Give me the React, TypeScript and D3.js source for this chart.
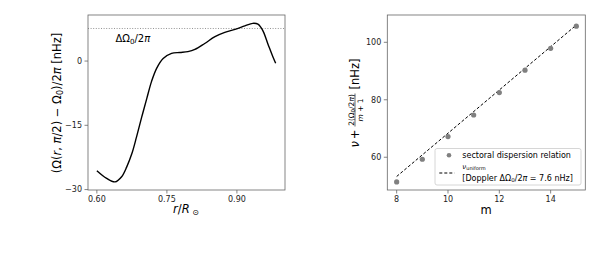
import React from "react";
import * as d3 from "d3";

// left panel: rotation rate profile at the equator
const radius = [0.6, 0.621, 0.639, 0.653, 0.664, 0.675, 0.685, 0.696, 0.707, 0.717, 0.728, 0.742, 0.76, 0.778, 0.795, 0.81, 0.831, 0.853, 0.874, 0.896, 0.917, 0.934, 0.945, 0.955, 0.966, 0.977, 0.983];
const omegaDiff = [-25.6, -27.4, -28.2, -27.0, -24.7, -21.6, -17.7, -13.1, -8.7, -4.8, -1.7, 0.6, 1.8, 2.0, 2.2, 2.7, 4.1, 5.7, 6.7, 7.4, 8.2, 8.8, 8.6, 7.2, 4.1, 1.0, -0.5];
const dopplerShift = 7.6;
const leftXTicks = [0.6, 0.75, 0.9];
const leftYTicks = [0, -15, -30];

// right panel: sectoral dispersion relation
const mValues = [8, 9, 10, 11, 12, 13, 14, 15];
const nuValues = [51.4, 59.3, 67.2, 74.7, 82.5, 90.3, 97.9, 105.6];
const uniformM = [8, 15];
const uniformNu = [53.3, 106.0];
const rightXTicks = [8, 10, 12, 14];
const rightYTicks = [60, 80, 100];

const spine = "#666";
const font = "DejaVu Sans, sans-serif";

const App = () => {
  const top = 15,
    bottom = 190;

  const xL = d3.scaleLinear().domain([0.581, 1.003]).range([88, 285]);
  const yL = d3.scaleLinear().domain([-30.1, 10.75]).range([bottom, top]);
  const xR = d3.scaleLinear().domain([7.635, 15.35]).range([387.3, 585.3]);
  const yR = d3.scaleLinear().domain([48.6, 109.5]).range([bottom, top]);

  const curve = d3
    .line<number>()
    .x((_, i) => xL(radius[i]))
    .y((d) => yL(d))
    .curve(d3.curveCatmullRom.alpha(0.5))(omegaDiff);

  const uniformLine = d3
    .line<number>()
    .x((_, i) => xR(uniformM[i]))
    .y((d) => yR(d))(uniformNu);

  const frame = (x0: number, x1: number) => (
    <rect x={x0} y={top} width={x1 - x0} height={bottom - top} fill="none" stroke={spine} strokeWidth={0.8} />
  );

  return (
    <svg width={600} height={262} style={{ position: "absolute", left: 0, top: 0, background: "#fff" }} fontFamily={font}>
      {/* ---------- left panel ---------- */}
      <line x1={88} x2={285} y1={yL(dopplerShift)} y2={yL(dopplerShift)} stroke="#888" strokeWidth={0.9} strokeDasharray="1,1.6" />
      <path d={curve ?? ""} fill="none" stroke="#000" strokeWidth={1.4} />
      {frame(88, 285)}
      <text x={115.5} y={41.5} fontSize={10} fill="#000">
        ΔΩ<tspan fontSize={7} dy={2}>0</tspan>
        <tspan dy={-2}>/2</tspan>
        <tspan fontStyle="italic">π</tspan>
      </text>
      {leftXTicks.map((t) => (
        <g key={t} transform={`translate(${xL(t)},${bottom})`}>
          <line y2={3.5} stroke={spine} strokeWidth={0.8} />
          <text y={12} textAnchor="middle" fontSize={8} fill="#222">
            {t.toFixed(2)}
          </text>
        </g>
      ))}
      {leftYTicks.map((t) => (
        <g key={t} transform={`translate(88,${yL(t)})`}>
          <line x2={-3.5} stroke={spine} strokeWidth={0.8} />
          <text x={-6} dy="0.35em" textAnchor="end" fontSize={8} fill="#222">
            {t < 0 ? `\u2212${-t}` : t}
          </text>
        </g>
      ))}
      <text x={186} y={213} textAnchor="middle" fontSize={11.5} fill="#000">
        <tspan fontStyle="italic">r</tspan>/<tspan fontStyle="italic">R</tspan>
        <tspan fontSize={8} dy={2}> ⊙</tspan>
      </text>
      <text transform="translate(61,103) rotate(-90)" textAnchor="middle" fontSize={11.5} fill="#000">
        (Ω(<tspan fontStyle="italic">r</tspan>, <tspan fontStyle="italic">π</tspan>/2) − Ω<tspan fontSize={8} dy={2}>0</tspan>
        <tspan dy={-2}>)/2</tspan>
        <tspan fontStyle="italic">π</tspan> [nHz]
      </text>

      {/* ---------- right panel ---------- */}
      <path d={uniformLine ?? ""} fill="none" stroke="#000" strokeWidth={1} strokeDasharray="3,2" />
      {mValues.map((m, i) => (
        <circle key={m} cx={xR(m)} cy={yR(nuValues[i])} r={2.6} fill="#808080" />
      ))}
      {frame(387.3, 585.3)}
      {rightXTicks.map((t) => (
        <g key={t} transform={`translate(${xR(t)},${bottom})`}>
          <line y2={3.5} stroke={spine} strokeWidth={0.8} />
          <text y={12} textAnchor="middle" fontSize={8} fill="#222">
            {t}
          </text>
        </g>
      ))}
      {rightYTicks.map((t) => (
        <g key={t} transform={`translate(387.3,${yR(t)})`}>
          <line x2={-3.5} stroke={spine} strokeWidth={0.8} />
          <text x={-6} dy="0.35em" textAnchor="end" fontSize={8} fill="#222">
            {t}
          </text>
        </g>
      ))}
      <text x={486} y={213.5} textAnchor="middle" fontSize={11.5} fill="#000">
        m
      </text>
      <g transform="translate(359,102.5) rotate(-90)" fill="#000">
        <text x={-45} y={0} fontSize={11.5} fontStyle="italic">
          ν
        </text>
        <text x={-32} y={0} fontSize={11.5} textAnchor="middle">
          +
        </text>
        <text x={-7.5} y={-5.5} fontSize={7.5} textAnchor="middle">
          2(Ω<tspan fontSize={5.5} dy={1.2}>0</tspan>
          <tspan dy={-1.2}>/2</tspan>
          <tspan fontStyle="italic">π</tspan>)
        </text>
        <line x1={-24} x2={9} y1={-4} y2={-4} stroke="#000" strokeWidth={0.6} />
        <text x={-7.5} y={3.5} fontSize={7.5} textAnchor="middle">
          <tspan fontStyle="italic">m</tspan> + 1
        </text>
        <text x={13} y={0} fontSize={11.5}>
          [nHz]
        </text>
      </g>

      {/* legend */}
      <rect x={435} y={148.5} width={146} height={36.5} rx={2} fill="#fff" fillOpacity={0.8} stroke="#ccc" strokeWidth={0.8} />
      <circle cx={449} cy={155.3} r={2.3} fill="#808080" />
      <text x={462.3} y={158} fontSize={8} fill="#000">
        sectoral dispersion relation
      </text>
      <line x1={439.3} x2={454.5} y1={173} y2={173} stroke="#000" strokeWidth={1} strokeDasharray="3,2" />
      <text x={462.3} y={169} fontSize={7} fill="#000">
        <tspan fontStyle="italic">ν</tspan>
        <tspan fontSize={5} dy={1}>uniform</tspan>
      </text>
      <text x={462.3} y={180.5} fontSize={8} fill="#000">
        [Doppler ΔΩ<tspan fontSize={5.5} dy={1.5}>0</tspan>
        <tspan dy={-1.5}>/2</tspan>
        <tspan fontStyle="italic">π</tspan> = 7.6 nHz]
      </text>
    </svg>
  );
};

export default App;
